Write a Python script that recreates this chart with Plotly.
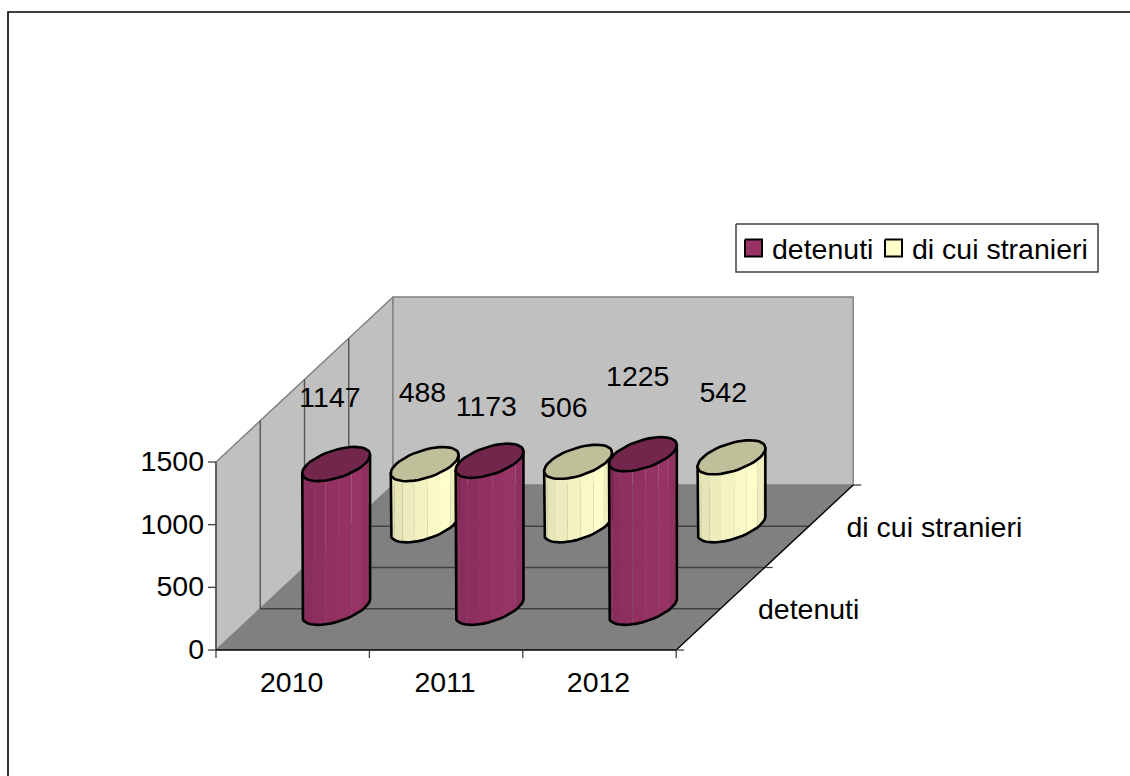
import math
import plotly.graph_objects as go

# ---- data ----
years = ["2010", "2011", "2012"]
series_names = ["detenuti", "di cui stranieri"]
detenuti = [1147, 1173, 1225]
stranieri = [488, 506, 542]
value_ticks = [0, 500, 1000, 1500]

# ---- style / oblique projection ----
W, H = 1130, 776
ORIGIN = (216.0, 650.0)
CAT_W = 153.4
DEPTH_X, DEPTH_Y = 88.5, 82.5
VAL_SCALE = 188.0 / 1500.0
FONT = "Liberation Sans, Arial, sans-serif"
FS = 28.5
INK = "#000000"
WALL, FLOOR = "#C0C0C0", "#808080"
GRID = "#555555"
EDGE = "#808080"
R_CAT, R_DEPTH = 0.1925, 0.214
N_SIDES = 12
PHASE = 0.321
CAT_NUDGE, DEPTH_NUDGE = -0.012, 0.012
STRIPE = 3
COLORS = {0: (153, 51, 102), 1: (255, 255, 204)}


def P(c, d, v=0.0):
    """category units, depth units, value units -> plot coordinates"""
    return (ORIGIN[0] + c * CAT_W + d * DEPTH_X,
            ORIGIN[1] - d * DEPTH_Y - v * VAL_SCALE)


fig = go.Figure()


def poly(pts, fill=None, line=None, width=1.0, close=True):
    xs = [p[0] for p in pts]
    ys = [p[1] for p in pts]
    if close and fill:
        xs.append(xs[0])
        ys.append(ys[0])
    fig.add_trace(go.Scatter(
        x=xs, y=ys, mode="lines", hoverinfo="skip", showlegend=False,
        fill="toself" if fill else None, fillcolor=fill,
        line=dict(color=line or "rgba(0,0,0,0)", width=width if line else 0),
    ))


def label(x, y, text, pos="middle center"):
    fig.add_trace(go.Scatter(
        x=[x], y=[y], mode="text", text=[text], textposition=pos,
        textfont=dict(family=FONT, size=FS, color=INK),
        hoverinfo="skip", showlegend=False,
    ))


def shade(rgb, k):
    return "rgb(%d,%d,%d)" % tuple(round(min(255, c * k)) for c in rgb)


def chaikin(pts):
    out = []
    n = len(pts)
    for i in range(n):
        p, q = pts[i], pts[(i + 1) % n]
        out.append((0.75 * p[0] + 0.25 * q[0], 0.75 * p[1] + 0.25 * q[1]))
        out.append((0.25 * p[0] + 0.75 * q[0], 0.25 * p[1] + 0.75 * q[1]))
    return out


def ring(c, d, v):
    out = []
    for i in range(N_SIDES):
        t = PHASE + 2 * math.pi * i / N_SIDES
        out.append(P(c + R_CAT * math.cos(t), d + R_DEPTH * math.sin(t), v))
    return chaikin(chaikin(out))


def cylinder(c, d, v, series):
    base, top = ring(c, d, 0), ring(c, d, v)
    rgb = COLORS[series]
    total = len(base)
    # visible side: from the left vertical edge round the front to the right vertical edge
    front = list(range(total // 2 + 1, total + 1))
    edges = [front[i:i + STRIPE + 1] for i in range(0, len(front) - 1, STRIPE)]
    for j, seg in enumerate(edges):
        u = (j + 0.5) / len(edges)
        k = 0.86 + 0.14 * (u / 0.68) if u < 0.68 else 1.0 - 0.16 * (u - 0.68) / 0.32
        poly([base[i % total] for i in seg] + [top[i % total] for i in seg[::-1]], fill=shade(rgb, k))
    # silhouette
    poly([top[total // 2]] + [base[i % total] for i in front] + [top[1]],
         line=INK, width=2.6, close=False)
    poly(top, fill=shade(rgb, 0.75))
    poly(top + [top[0]], line=INK, width=2.6, close=False)


# frame (open at right/bottom as the picture is cropped)
poly([(8, H), (8, 12), (W, 12)], line=INK, width=1.6, close=False)

# walls and floor
c_max, d_max, v_max = len(years), len(series_names), value_ticks[-1]
poly([P(0, 0), P(0, d_max), P(0, d_max, v_max), P(0, 0, v_max)], fill=WALL, line=EDGE, width=1.4)
poly([P(0, d_max), P(c_max, d_max), P(c_max, d_max, v_max), P(0, d_max, v_max)], fill=WALL, line=EDGE, width=1.4)
poly([P(0, 0), P(c_max, 0), P(c_max, d_max), P(0, d_max)], fill=FLOOR)

for d in (0.5, 1.0, 1.5):
    poly([P(0, d), P(0, d, v_max)], line=GRID, width=1.4, close=False)
    poly([P(0, d), P(c_max, d)], line="#404040", width=1.4, close=False)

# axes
poly([P(0, 0, 0), P(0, 0, v_max)], line="#404040", width=1.3, close=False)
poly([P(0, 0), P(c_max, 0)], line=INK, width=1.6, close=False)
poly([P(c_max, 0), P(c_max, d_max)], line=INK, width=1.4, close=False)
for v in value_ticks:
    x, y = P(0, 0, v)
    poly([(x - 8, y), (x, y)], line="#404040", width=1.3, close=False)
    label(x - 12, y + 2, str(v), "middle left")
for c in range(c_max + 1):
    x, y = P(c, 0)
    poly([(x, y), (x, y + 8)], line="#404040", width=1.3, close=False)
for d in range(d_max + 1):
    x, y = P(c_max, d)
    poly([(x, y), (x + 8, y)], line="#404040", width=1.3, close=False)

# cylinders: back row first
rows = [(1, stranieri), (0, detenuti)]
for series, values in rows:
    for c, v in enumerate(values):
        cylinder(c + 0.5 + CAT_NUDGE, series + 0.5 + DEPTH_NUDGE, v, series)

# category and series labels
for c, y_label in enumerate(years):
    x, y = P(c + 0.5, 0)
    label(x - 1, y + 34.5, y_label)
for d, name in enumerate(series_names):
    x, y = P(c_max, d + 0.5)
    label(x + 37.5, y + 3.5, name, "middle right")

# data labels: offsets from the top of each cylinder, as placed in the source chart
LABEL_OFFSETS = {
    (0, 0): (-7, -65), (0, 1): (-4, -53), (0, 2): (-6, -76),
    (1, 0): (-3, -70), (1, 1): (-15, -53), (1, 2): (-9, -63),
}
for series, values in rows:
    for c, v in enumerate(values):
        x, y = P(c + 0.5, series + 0.5, v)
        dx, dy = LABEL_OFFSETS[(series, c)]
        label(x + dx, y + dy, str(v))

# legend
LEG_BOX = (736, 224, 1098, 272)
LEG_ENTRIES = ((745, 772), (885, 912))
x0, y0, x1, y1 = LEG_BOX
poly([(x0, y0), (x1, y0), (x1, y1), (x0, y1)], fill="white", line="#404040", width=1.5)
for series, (name, (sx, tx)) in enumerate(zip(series_names, LEG_ENTRIES)):
    poly([(sx, 239.5), (sx + 17, 239.5), (sx + 17, 256.5), (sx, 256.5)],
         fill=shade(COLORS[series], 1.0), line=INK, width=2)
    label(tx, 252, name, "middle right")

fig.update_layout(
    width=W, height=H, margin=dict(l=0, r=0, t=0, b=0),
    paper_bgcolor="white", plot_bgcolor="white",
    xaxis=dict(range=[0, W], visible=False, fixedrange=True),
    yaxis=dict(range=[H, 0], visible=False, fixedrange=True),
    font=dict(family=FONT, size=FS, color=INK),
    showlegend=False,
)

fig.write_html("out.html", config={"displayModeBar": False},
               post_script="document.body.style.margin='0';document.documentElement.style.overflow='hidden';")
